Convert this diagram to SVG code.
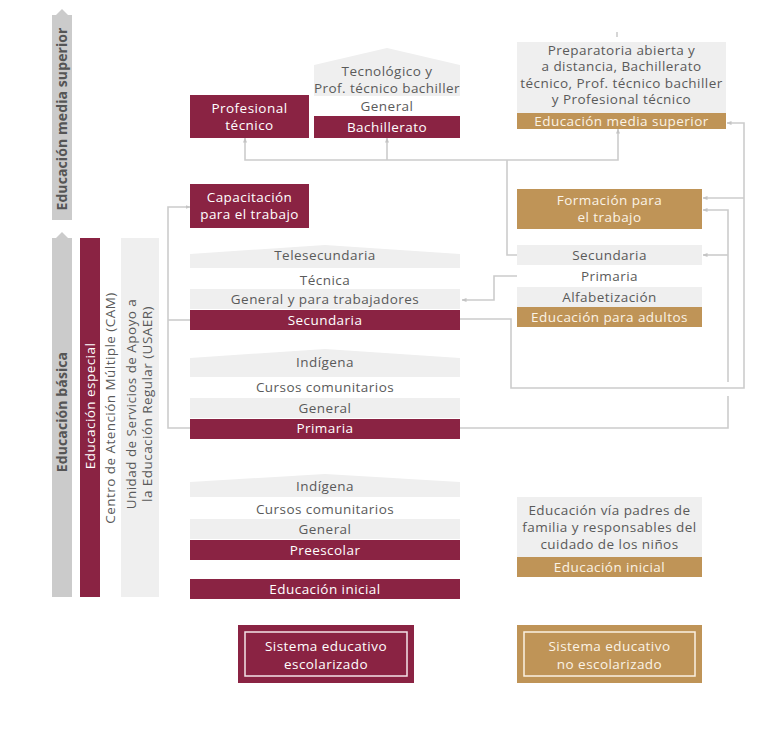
<svg xmlns="http://www.w3.org/2000/svg" width="768" height="748" viewBox="0 0 768 748">
<style>
text{font-family:"Open Sans","Noto Sans","Liberation Sans",sans-serif;font-size:13.5px;letter-spacing:0.45px;text-anchor:middle;}
.g{fill:#5a5a5a;}
.w{fill:#ffffff;}
.gw{fill:#fbf3e6;}
.mar{fill:#8a2343;}
.gold{fill:#bf9457;}
.lg{fill:#efefef;}
.dg{fill:#cbcbcb;}
.con{fill:none;stroke:#cccccc;stroke-width:1.6;}
.bold{font-weight:bold;font-size:14px;letter-spacing:0.1px;fill:#555555;}
</style>
<defs>
<marker id="ah" viewBox="0 0 10 10" refX="9" refY="5" markerWidth="5" markerHeight="5" orient="auto-start-reverse" markerUnits="userSpaceOnUse">
<path d="M0,1 L10,5 L0,9 z" fill="#c4c4c4"/>
</marker>
</defs>
<rect width="768" height="748" fill="#ffffff"/>

<!-- side bars -->
<g id="side-ems">
<rect class="dg" x="52" y="15" width="20" height="205"/>
<path d="M56,15 L62,9 L68,15 z" fill="#cbcbcb"/>
<text class="bold" transform="translate(67,119) rotate(-90)">Educación media superior</text>
</g>
<g id="side-basica">
<rect class="dg" x="52" y="238" width="20" height="359"/>
<path d="M56,238 L62,232 L68,238 z" fill="#cbcbcb"/>
<text class="bold" transform="translate(67,412) rotate(-90)">Educación básica</text>
</g>
<g id="side-especial">
<rect class="mar" x="80" y="238" width="20" height="359"/>
<text class="w" transform="translate(95,406) rotate(-90)">Educación especial</text>
</g>
<g id="side-cam">
<text class="g" transform="translate(115,408) rotate(-90)">Centro de Atención Múltiple (CAM)</text>
</g>
<g id="side-usaer">
<rect class="lg" x="121" y="238" width="38" height="359"/>
<text class="g" transform="translate(136,404) rotate(-90)">Unidad de Servicios de Apoyo a</text>
<text class="g" transform="translate(152,404) rotate(-90)">la Educación Regular (USAER)</text>
</g>

<!-- connectors -->
<g id="connectors">
<path class="con" d="M190,207 H168 V428 H190" marker-start="url(#ah)"/>
<path class="con" d="M168,320 H190"/>
<path class="con" d="M245,138 V160 H618 V129" marker-start="url(#ah)" marker-end="url(#ah)"/>
<path class="con" d="M387,138 V160" marker-start="url(#ah)"/>
<path class="con" d="M517,255 H507 V160"/>
<path class="con" d="M517,276 H494 V300 H462" marker-end="url(#ah)"/>
<path class="con" d="M460,319 H511 V388 H744 V123 H727" marker-end="url(#ah)"/>
<path class="con" d="M744,198 H703" marker-end="url(#ah)"/>
<path class="con" d="M460,428 H728 V396"/>
<path class="con" d="M728,382 V210 H703" marker-end="url(#ah)"/>
<path class="con" d="M728,255 H703" marker-end="url(#ah)"/>
<path class="con" d="M617,32 V37"/>
</g>

<!-- media superior escolarizado -->
<g id="profesional-tecnico">
<rect class="mar" x="190" y="95" width="119" height="43"/>
<text class="w" x="249.5" y="113">Profesional</text>
<text class="w" x="249.5" y="129.5">técnico</text>
</g>
<g id="bachillerato">
<path class="lg" d="M314,65 L387,48 L460,65 V96 H314 z"/>
<text class="g" x="387" y="76">Tecnológico y</text>
<text class="g" x="387" y="92.5">Prof. técnico bachiller</text>
<text class="g" x="387" y="111">General</text>
<rect class="mar" x="314" y="116" width="146" height="22"/>
<text class="w" x="387" y="131.5">Bachillerato</text>
</g>
<g id="capacitacion">
<rect class="mar" x="190" y="184" width="119" height="44"/>
<text class="w" x="249.5" y="202">Capacitación</text>
<text class="w" x="249.5" y="218.5">para el trabajo</text>
</g>

<!-- secundaria -->
<g id="secundaria">
<path class="lg" d="M190,254 L325,245 L460,254 V268 H190 z"/>
<text class="g" x="325" y="259.5">Telesecundaria</text>
<text class="g" x="325" y="284.5">Técnica</text>
<rect class="lg" x="190" y="289" width="270" height="20"/>
<text class="g" x="325" y="303.5">General y para trabajadores</text>
<rect class="mar" x="190" y="310" width="270" height="20"/>
<text class="w" x="325" y="324.5">Secundaria</text>
</g>

<!-- primaria -->
<g id="primaria">
<path class="lg" d="M190,358 L325,349 L460,358 V377 H190 z"/>
<text class="g" x="325" y="366.5">Indígena</text>
<text class="g" x="325" y="391.5">Cursos comunitarios</text>
<rect class="lg" x="190" y="398" width="270" height="20"/>
<text class="g" x="325" y="412.5">General</text>
<rect class="mar" x="190" y="419" width="270" height="20"/>
<text class="w" x="325" y="433">Primaria</text>
</g>

<!-- preescolar -->
<g id="preescolar">
<path class="lg" d="M190,482 L325,474 L460,482 V497 H190 z"/>
<text class="g" x="325" y="490.5">Indígena</text>
<text class="g" x="325" y="513.5">Cursos comunitarios</text>
<rect class="lg" x="190" y="519" width="270" height="20"/>
<text class="g" x="325" y="533.5">General</text>
<rect class="mar" x="190" y="540" width="270" height="20"/>
<text class="w" x="325" y="554.5">Preescolar</text>
</g>
<g id="educacion-inicial-esc">
<rect class="mar" x="190" y="579" width="270" height="20"/>
<text class="w" x="325" y="594">Educación inicial</text>
</g>

<!-- no escolarizado -->
<g id="ems-no-esc">
<rect class="lg" x="517" y="42" width="209" height="71"/>
<text class="g" x="621.5" y="54.5">Preparatoria abierta y</text>
<text class="g" x="621.5" y="71">a distancia, Bachillerato</text>
<text class="g" x="621.5" y="87.5">técnico, Prof. técnico bachiller</text>
<text class="g" x="621.5" y="104">y Profesional técnico</text>
<rect class="gold" x="517" y="113" width="209" height="16"/>
<text class="gw" x="621.5" y="125.5">Educación media superior</text>
</g>
<g id="formacion-trabajo">
<rect class="gold" x="517" y="189" width="185" height="40"/>
<text class="gw" x="609.5" y="205">Formación para</text>
<text class="gw" x="609.5" y="221.5">el trabajo</text>
</g>
<g id="educacion-adultos">
<rect class="lg" x="517" y="245" width="185" height="20"/>
<text class="g" x="609.5" y="259.5">Secundaria</text>
<text class="g" x="609.5" y="280.5">Primaria</text>
<rect class="lg" x="517" y="287" width="185" height="20"/>
<text class="g" x="609.5" y="301.5">Alfabetización</text>
<rect class="gold" x="517" y="307" width="185" height="20"/>
<text class="gw" x="609.5" y="321.5">Educación para adultos</text>
</g>
<g id="educacion-inicial-no-esc">
<rect class="lg" x="517" y="497" width="185" height="60"/>
<text class="g" x="609.5" y="514.5">Educación vía padres de</text>
<text class="g" x="609.5" y="531.5">familia y responsables del</text>
<text class="g" x="609.5" y="548.5">cuidado de los niños</text>
<rect class="gold" x="517" y="557" width="185" height="20"/>
<text class="gw" x="609.5" y="572">Educación inicial</text>
</g>

<!-- legend -->
<g id="legend-escolarizado">
<rect class="mar" x="238" y="625" width="176" height="58"/>
<rect x="245" y="632" width="162" height="44" fill="none" stroke="#f3e3e8" stroke-width="1.5"/>
<text class="w" x="326" y="650.5">Sistema educativo</text>
<text class="w" x="326" y="668.5">escolarizado</text>
</g>
<g id="legend-no-escolarizado">
<rect class="gold" x="517" y="625" width="185" height="58"/>
<rect x="524" y="632" width="171" height="44" fill="none" stroke="#fbf1e2" stroke-width="1.5"/>
<text class="gw" x="609.5" y="650.5">Sistema educativo</text>
<text class="gw" x="609.5" y="668.5">no escolarizado</text>
</g>
</svg>
